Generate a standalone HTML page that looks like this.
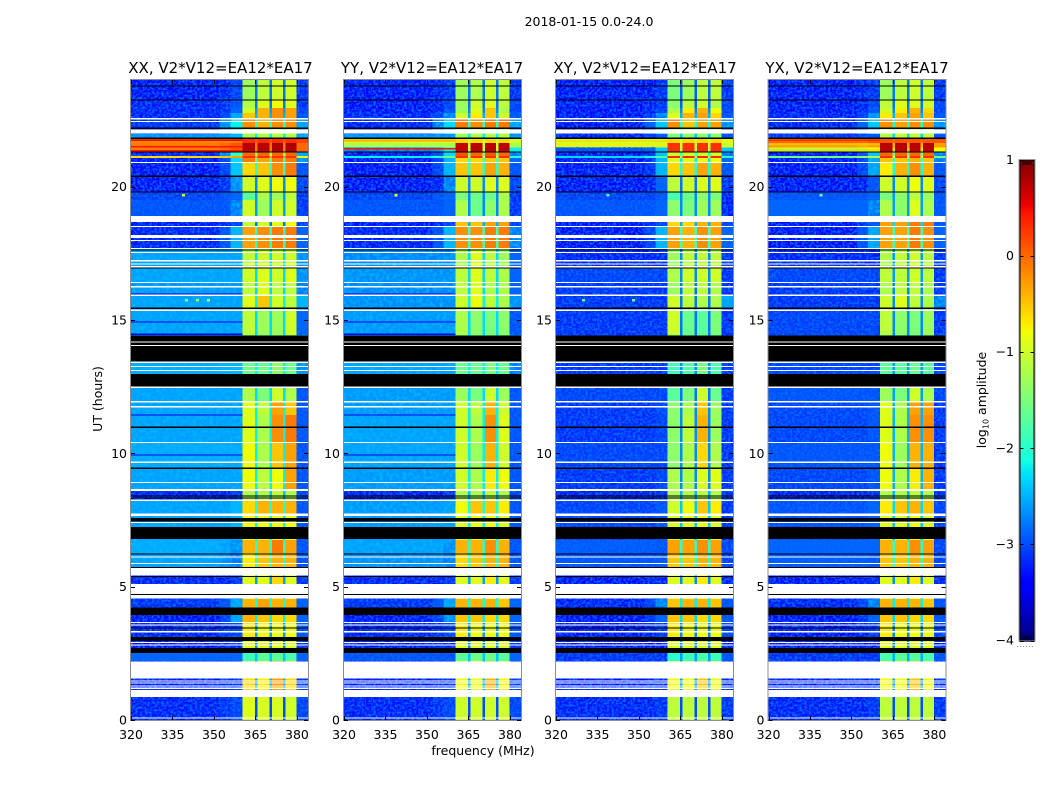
<!DOCTYPE html>
<html>
<head>
<meta charset="utf-8">
<title>2018-01-15 0.0-24.0</title>
<style>
html,body{margin:0;padding:0;background:#fff;}
svg{display:block;}
text{font-family:"DejaVu Sans","Liberation Sans",sans-serif;fill:#000;}
</style>
</head>
<body>
<svg id="chart" xmlns="http://www.w3.org/2000/svg" width="1050" height="800" viewBox="0 0 1050 800">
<defs>
<filter id="speckle" x="0" y="0" width="1" height="1" color-interpolation-filters="sRGB">
<feTurbulence type="fractalNoise" baseFrequency="0.42" numOctaves="2" seed="4"/>
<feColorMatrix type="matrix" values="0 0 0 0 0  0 0 0 0 0.42  0 0 0 0 1  3.4 0 0 0 -1.35"/>
</filter>
<filter id="speckle-soft" x="0" y="0" width="1" height="1" color-interpolation-filters="sRGB">
<feTurbulence type="fractalNoise" baseFrequency="0.3" numOctaves="2" seed="9"/>
<feColorMatrix type="matrix" values="0 0 0 0 0  0 0 0 0 0.74  0 0 0 0 1  2.2 0 0 0 -0.85"/>
</filter>
</defs>
<rect x="0" y="0" width="1050" height="800" fill="#fff"/>
<text x="589" y="26" font-size="12.5" text-anchor="middle">2018-01-15 0.0-24.0</text>
<text x="483" y="755" font-size="12.5" text-anchor="middle">frequency (MHz)</text>
<text transform="translate(102,399) rotate(-90)" font-size="12.5" text-anchor="middle">UT (hours)</text>
<text transform="translate(986,400) rotate(-90)" font-size="12.5" text-anchor="middle">log<tspan font-size="8" dy="2.5">10</tspan><tspan dy="-2.5"> amplitude</tspan></text>
</svg>
<script>
// ---- Data: axes ----
const freqTicks = [320, 335, 350, 365, 380];
const utTicks = [0, 5, 10, 15, 20];
const colorbarTicks = [1, 0, -1, -2, -3, -4];
const panelNames = ["XX", "YY", "XY", "YX"];
const panelTitles = ["XX, V2*V12=EA12*EA17", "YY, V2*V12=EA12*EA17", "XY, V2*V12=EA12*EA17", "YX, V2*V12=EA12*EA17"];

// ---- Data: frequency columns (MHz) and which level of a band row each column reads ----
const freqEdges = [320, 352, 356, 360.4, 364.8, 365.8, 370, 370.9, 374.9, 375.8, 379.9, 384];
const columnLevel = [0, 1, 2, 3, 8, 4, 8, 5, 8, 6, 7];

// ---- Data: time band edges (UT hours, top to bottom) ----
const utEdges = [24.00,23.25,22.95,22.76,22.53,22.16,21.97,21.82,21.63,21.47,21.30,21.15,21.07,20.88,20.40,19.80,19.50,18.90,18.67,18.49,17.70,16.95,16.42,15.94,15.45,14.44,13.42,12.97,12.45,11.92,11.44,10.42,9.45,8.62,8.25,7.72,6.75,6.26,5.70,5.10,4.54,4.20,3.67,3.11,2.51,2.21,1.12,0.86,0];

// ---- Data: log10 amplitude per band: [bg, ramp1, ramp2, spw1, spw2, spw3, spw4, right, gap] ----
const levelsXX = [
[-3.4,-3.3,-3.1,-1.3,-1.1,-1.0,-1.0,-3.2,-2.8],
[-3.3,-3.2,-3.0,-1.2,-0.9,-0.8,-0.9,-3.2,-2.8],
[-3.3,-3.2,-2.9,-1.0,-0.4,-0.2,-0.3,-3.1,-2.6],
[-3.3,-3.1,-2.6,-0.5,-0.4,-0.2,-0.3,-3.0,-2.5],
[-3.2,-2.7,-2.2,-0.2,-0.4,-0.2,-0.2,-2.6,-2.0],
[-3.2,-2.7,-2.3,-1.0,-1.0,-1.0,-1.0,-2.7,-2.1],
[-2.7,-2.6,-2.5,-1.3,-1.2,-1.2,-1.2,-2.6,-2.2],
[0.1,0.1,0.2,0.3,0.3,0.3,0.3,0.2,0.1],
[-0.1,0.0,0.1,0.75,0.75,0.8,0.8,0.0,-0.1],
[-0.1,0.0,0.1,0.75,0.75,0.8,0.8,0.0,-0.1],
[-3.3,-2.8,-1.9,0.0,0.0,0.0,0.0,-2.6,-1.2],
[-0.6,-0.5,-0.3,0.3,0.3,0.3,0.3,-0.8,-0.3],
[-3.4,-3.1,-2.3,-0.1,-0.3,-0.1,-0.1,-2.7,-1.8],
[-3.4,-3.1,-2.4,-0.6,-0.5,-0.2,-0.1,-3.0,-2.0],
[-3.4,-3.2,-2.7,-1.0,-0.9,-0.8,-0.8,-3.1,-2.7],
[-3.1,-3.0,-2.9,-1.7,-1.2,-1.3,-1.1,-3.2,-2.6],
[-3.0,-3.0,-2.8,-1.0,-1.3,-1.0,-1.0,-3.2,-2.6],
[-3.3,-3.2,-3.0,-1.1,-1.0,-0.9,-0.8,-3.0,-2.8],
[-3.4,-3.3,-3.1,-1.1,-1.0,-0.9,-0.8,-3.1,-2.8],
[-3.3,-3.0,-2.5,-0.3,-0.2,-0.1,-0.1,-2.9,-2.0],
[-2.6,-2.6,-2.6,-1.1,-1.0,-1.0,-1.0,-2.7,-2.3],
[-2.6,-2.6,-2.6,-1.0,-0.9,-1.0,-0.9,-2.7,-2.3],
[-2.65,-2.65,-2.65,-1.1,-0.9,-1.1,-1.1,-2.8,-2.3],
[-2.6,-2.6,-2.6,-0.9,-0.5,-1.0,-1.1,-2.5,-2.2],
[-2.6,-2.6,-2.6,-1.1,-1.3,-1.3,-1.0,-2.9,-2.3],
[-2.6,-2.6,-2.6,-1.6,-1.6,-1.4,-1.6,-2.7,-2.2],
[-2.55,-2.5,-2.5,-1.6,-1.6,-1.4,-1.6,-2.7,-2.2],
[-2.6,-2.6,-2.6,-1.3,-1.4,-1.2,-1.4,-2.9,-2.3],
[-2.6,-2.6,-2.6,-1.2,-1.5,-1.0,-1.2,-3.0,-2.3],
[-2.6,-2.6,-2.6,-0.9,-1.1,-0.3,-0.5,-3.0,-2.2],
[-2.6,-2.6,-2.6,-0.9,-1.2,-0.2,-0.1,-3.0,-2.2],
[-2.55,-2.55,-2.55,-0.8,-1.2,-0.5,-0.3,-3.0,-2.2],
[-2.6,-2.6,-2.6,-0.8,-1.1,-0.8,-0.3,-3.0,-2.2],
[-3.3,-3.3,-3.2,-1.2,-1.2,-1.1,-1.2,-3.1,-2.4],
[-2.6,-2.6,-2.5,-0.6,-0.4,-0.4,-0.4,-3.0,-2.1],
[-2.6,-2.6,-2.5,-0.8,-0.8,-0.8,-0.8,-3.0,-2.2],
[-2.55,-2.6,-2.7,-0.4,-0.4,-0.1,-0.3,-3.0,-2.0],
[-2.6,-2.7,-2.8,-0.7,-0.5,-0.4,-0.4,-3.0,-2.0],
[-3.3,-3.3,-3.2,-0.9,-0.9,-0.6,-0.9,-3.2,-2.6],
[-3.3,-3.3,-3.2,-0.9,-0.9,-0.6,-0.9,-3.2,-2.6],
[-3.2,-3.0,-2.6,-0.4,-0.3,-0.4,-0.4,-2.9,-2.1],
[-3.4,-3.1,-2.6,-0.4,-0.5,-0.6,-0.6,-2.9,-2.2],
[-3.3,-3.2,-3.1,-0.7,-0.8,-0.8,-0.8,-3.0,-2.6],
[-3.4,-3.3,-3.3,-0.9,-0.9,-0.9,-0.9,-3.2,-2.7],
[-2.9,-2.9,-2.9,-1.9,-1.7,-1.7,-1.8,-2.9,-2.4],
[-3.4,-3.3,-3.3,-0.6,-0.7,-0.3,-0.6,-3.2,-2.5],
[-3.4,-3.3,-3.3,-0.6,-0.7,-0.3,-0.6,-3.2,-2.5],
[-3.3,-3.2,-3.1,-0.9,-0.95,-0.95,-1.0,-3.1,-3.0]
];
const levelsYY = [
[-3.4,-3.3,-3.2,-1.3,-1.2,-1.0,-1.1,-3.2,-2.8],
[-3.4,-3.3,-3.1,-1.3,-1.0,-0.9,-1.1,-3.1,-2.8],
[-3.4,-3.3,-3.0,-1.3,-0.9,-0.5,-1.2,-3.1,-2.7],
[-3.3,-3.1,-2.8,-1.0,-0.7,-0.5,-1.0,-3.0,-2.5],
[-3.3,-2.8,-2.3,-0.1,-0.2,-0.1,-0.1,-2.6,-2.0],
[-3.2,-2.8,-2.4,-1.0,-1.0,-1.0,-1.0,-2.7,-2.1],
[-2.7,-2.7,-2.7,-1.3,-1.2,-1.2,-1.2,-2.7,-2.2],
[-1.0,-1.0,-1.0,-0.6,-0.6,-0.6,-0.6,-1.0,-1.0],
[-1.2,-1.2,-1.2,0.7,0.75,0.75,0.75,-1.2,-1.0],
[-2.8,-2.7,-2.2,0.7,0.75,0.75,0.75,-2.2,-1.0],
[-3.4,-3.0,-2.3,0.1,0.0,0.1,0.0,-2.8,-1.5],
[-2.2,-2.0,-1.6,0.3,0.3,0.3,0.3,-2.0,-1.0],
[-3.4,-3.1,-2.5,-0.6,-0.6,-0.5,-0.5,-2.9,-1.9],
[-3.4,-3.1,-2.5,-0.5,-0.5,-0.3,-0.4,-3.0,-2.0],
[-3.4,-3.3,-2.8,-1.0,-1.0,-0.9,-0.9,-3.1,-2.7],
[-3.1,-3.0,-2.9,-1.5,-1.6,-1.6,-1.2,-3.2,-2.7],
[-3.0,-3.0,-2.9,-1.2,-1.6,-1.4,-1.2,-3.2,-2.7],
[-3.4,-3.3,-3.1,-0.6,-0.6,-0.5,-0.5,-3.1,-2.6],
[-3.4,-3.3,-3.1,-0.5,-0.5,-0.3,-0.3,-3.1,-2.5],
[-3.3,-3.0,-2.5,-0.2,-0.2,-0.1,-0.1,-2.8,-1.9],
[-2.75,-2.75,-2.75,-1.2,-0.9,-1.1,-1.3,-2.9,-2.3],
[-2.7,-2.7,-2.7,-1.1,-0.9,-1.1,-1.2,-2.9,-2.3],
[-2.75,-2.75,-2.75,-1.1,-0.9,-1.2,-1.2,-2.9,-2.3],
[-2.7,-2.7,-2.7,-1.0,-0.8,-1.1,-1.2,-2.7,-2.2],
[-2.65,-2.65,-2.65,-1.2,-1.4,-1.5,-1.4,-3.0,-2.3],
[-2.6,-2.6,-2.6,-1.6,-1.6,-1.5,-1.6,-2.8,-2.2],
[-2.6,-2.6,-2.6,-1.6,-1.6,-1.5,-1.6,-2.8,-2.2],
[-2.6,-2.6,-2.6,-1.4,-1.4,-1.3,-1.5,-2.9,-2.3],
[-2.65,-2.65,-2.65,-1.3,-1.5,-1.0,-1.3,-3.0,-2.3],
[-2.65,-2.65,-2.65,-1.0,-1.1,-0.4,-1.0,-3.0,-2.2],
[-2.6,-2.6,-2.6,-1.0,-1.2,-0.2,-0.9,-3.0,-2.2],
[-2.6,-2.6,-2.6,-1.0,-1.3,-0.4,-1.0,-3.0,-2.2],
[-2.65,-2.65,-2.65,-1.0,-1.2,-0.7,-0.8,-3.0,-2.2],
[-3.3,-3.3,-3.2,-1.2,-1.2,-1.1,-1.2,-3.1,-2.4],
[-2.65,-2.65,-2.6,-0.8,-0.5,-0.5,-0.7,-3.0,-2.1],
[-2.65,-2.65,-2.6,-0.9,-0.8,-0.8,-0.9,-3.0,-2.2],
[-2.6,-2.6,-2.7,-0.4,-0.4,-0.2,-0.4,-3.0,-2.0],
[-2.7,-2.7,-2.8,-0.6,-0.5,-0.4,-0.4,-3.0,-2.0],
[-3.3,-3.3,-3.2,-0.9,-0.9,-0.7,-0.9,-3.2,-2.6],
[-3.3,-3.3,-3.2,-0.9,-0.9,-0.7,-0.9,-3.2,-2.6],
[-3.2,-3.0,-2.6,-0.4,-0.4,-0.4,-0.5,-2.9,-2.1],
[-3.4,-3.1,-2.7,-0.5,-0.5,-0.6,-0.6,-2.9,-2.2],
[-3.3,-3.2,-3.1,-0.7,-0.8,-0.8,-0.8,-3.0,-2.6],
[-3.4,-3.3,-3.3,-0.9,-0.9,-0.9,-0.9,-3.2,-2.7],
[-3.0,-3.0,-3.0,-1.7,-1.6,-1.6,-1.7,-2.9,-2.4],
[-3.4,-3.3,-3.3,-0.8,-0.8,-0.4,-0.8,-3.2,-2.5],
[-3.4,-3.3,-3.3,-0.8,-0.8,-0.4,-0.8,-3.2,-2.5],
[-3.3,-3.2,-3.1,-1.0,-1.0,-1.0,-1.0,-3.1,-3.0]
];
const levelsXY = [
[-3.4,-3.4,-3.2,-1.5,-1.3,-1.1,-1.1,-3.2,-2.9],
[-3.4,-3.3,-3.2,-1.4,-1.1,-1.0,-1.2,-3.1,-2.9],
[-3.4,-3.3,-3.1,-1.2,-0.7,-0.4,-0.8,-3.1,-2.7],
[-3.4,-3.2,-2.8,-0.9,-0.4,-0.3,-0.6,-3.0,-2.5],
[-3.4,-2.9,-2.4,-0.2,-0.5,-0.3,-0.3,-2.7,-2.1],
[-3.4,-3.0,-2.5,-1.2,-1.2,-1.2,-1.2,-2.9,-2.2],
[-3.3,-3.2,-3.0,-1.5,-1.4,-1.4,-1.4,-3.0,-2.4],
[-0.9,-0.9,-0.9,-0.6,-0.6,-0.6,-0.6,-0.9,-1.0],
[-1.0,-1.0,-1.0,0.3,0.3,0.3,0.3,-1.0,-1.0],
[-3.0,-2.9,-2.4,0.3,0.3,0.3,0.3,-2.4,-1.2],
[-3.4,-3.2,-2.4,-1.0,-1.0,-1.0,-1.0,-2.8,-1.8],
[-2.3,-2.1,-1.8,0.35,0.35,0.35,0.35,-2.0,-1.2],
[-3.4,-3.2,-2.5,-0.9,-0.9,-0.8,-0.8,-2.9,-2.2],
[-3.4,-3.2,-2.5,-0.6,-0.5,-0.3,-0.4,-3.0,-2.1],
[-3.4,-3.3,-2.9,-1.1,-1.0,-0.9,-0.9,-3.2,-2.8],
[-3.1,-3.1,-3.0,-1.8,-1.6,-1.4,-1.5,-3.3,-2.7],
[-3.0,-3.0,-2.9,-1.4,-1.5,-1.3,-1.3,-3.3,-2.7],
[-3.4,-3.3,-3.1,-0.9,-0.8,-0.7,-0.7,-3.1,-2.6],
[-3.4,-3.3,-3.1,-0.6,-0.6,-0.4,-0.4,-3.1,-2.5],
[-3.4,-3.1,-2.5,-0.3,-0.4,-0.2,-0.3,-2.9,-1.9],
[-3.3,-3.3,-3.3,-1.3,-1.1,-1.1,-1.1,-3.2,-2.7],
[-3.1,-3.1,-3.1,-1.2,-1.0,-1.0,-1.0,-3.2,-2.7],
[-3.2,-3.2,-3.2,-1.3,-1.1,-1.1,-1.2,-3.2,-2.8],
[-3.2,-3.2,-3.2,-1.0,-1.1,-1.2,-1.2,-2.6,-2.8],
[-3.2,-3.2,-3.2,-1.0,-1.6,-1.7,-1.5,-3.2,-2.8],
[-3.2,-3.2,-3.2,-1.9,-1.8,-1.5,-1.8,-3.2,-2.7],
[-3.2,-3.2,-3.2,-1.9,-1.8,-1.5,-1.8,-3.2,-2.7],
[-3.2,-3.2,-3.2,-1.7,-1.7,-1.3,-1.7,-3.2,-2.8],
[-3.1,-3.1,-3.1,-1.7,-1.5,-1.0,-1.6,-3.2,-2.8],
[-3.2,-3.2,-3.1,-1.4,-1.2,-0.5,-1.3,-3.2,-2.7],
[-3.2,-3.2,-3.1,-1.4,-1.1,-0.4,-1.3,-3.2,-2.7],
[-3.1,-3.1,-3.1,-1.4,-1.2,-0.6,-1.2,-3.2,-2.7],
[-3.2,-3.2,-3.1,-1.2,-1.2,-0.9,-0.9,-3.2,-2.7],
[-3.3,-3.3,-3.2,-1.2,-1.2,-1.1,-1.2,-3.2,-2.5],
[-3.1,-3.1,-3.0,-1.0,-0.8,-0.5,-0.7,-3.2,-2.4],
[-3.1,-3.1,-3.0,-0.9,-0.9,-0.8,-0.9,-3.2,-2.4],
[-2.95,-2.95,-3.0,-0.3,-0.3,-0.2,-0.3,-3.1,-2.0],
[-3.0,-3.0,-3.0,-0.5,-0.5,-0.4,-0.4,-3.1,-2.0],
[-3.4,-3.3,-3.3,-0.9,-0.9,-0.7,-0.9,-3.3,-2.7],
[-3.4,-3.3,-3.3,-0.9,-0.9,-0.7,-0.9,-3.3,-2.7],
[-3.3,-3.1,-2.8,-0.5,-0.4,-0.4,-0.5,-3.0,-2.2],
[-3.4,-3.2,-2.9,-0.5,-0.5,-0.6,-0.6,-3.0,-2.3],
[-3.4,-3.3,-3.2,-0.7,-0.8,-0.8,-0.8,-3.1,-2.7],
[-3.4,-3.4,-3.4,-0.9,-0.9,-0.9,-0.9,-3.3,-2.7],
[-3.2,-3.2,-3.2,-2.0,-1.9,-1.8,-1.9,-3.0,-2.6],
[-3.4,-3.3,-3.3,-0.8,-0.8,-0.5,-0.8,-3.3,-2.6],
[-3.4,-3.3,-3.3,-0.8,-0.8,-0.5,-0.8,-3.3,-2.6],
[-3.3,-3.3,-3.2,-1.1,-1.1,-1.1,-1.1,-3.2,-3.0]
];
const levelsYX = [
[-3.4,-3.3,-3.2,-1.3,-1.1,-1.0,-1.1,-3.2,-2.8],
[-3.4,-3.3,-3.1,-1.1,-0.9,-0.9,-1.0,-3.1,-2.8],
[-3.4,-3.3,-3.0,-1.0,-0.7,-0.4,-0.6,-3.1,-2.7],
[-3.3,-3.1,-2.7,-0.7,-0.5,-0.3,-0.5,-3.0,-2.5],
[-3.3,-2.9,-2.4,-0.2,-0.3,-0.2,-0.2,-2.7,-2.1],
[-3.3,-2.9,-2.5,-1.0,-1.0,-1.0,-1.0,-2.8,-2.2],
[-3.2,-3.1,-3.0,-1.2,-1.1,-1.1,-1.1,-3.0,-2.3],
[0.0,0.0,0.1,0.1,0.1,0.1,0.1,0.1,0.0],
[-0.3,-0.4,-0.3,0.75,0.75,0.75,0.75,-0.3,-0.4],
[-1.1,-1.0,-0.8,0.75,0.75,0.75,0.75,-0.8,-0.6],
[-3.4,-3.0,-2.4,0.0,0.0,0.0,0.0,-2.8,-1.6],
[-1.6,-1.4,-1.2,0.3,0.3,0.3,0.3,-1.5,-0.8],
[-3.4,-3.1,-2.6,-0.5,-0.5,-0.4,-0.5,-2.8,-1.9],
[-3.4,-3.1,-2.6,-0.7,-0.4,-0.2,-0.4,-3.0,-2.1],
[-3.4,-3.3,-3.0,-1.0,-1.0,-0.8,-0.9,-3.1,-2.7],
[-3.0,-3.0,-2.9,-1.5,-1.4,-1.1,-1.3,-3.0,-2.6],
[-2.9,-2.9,-2.8,-1.2,-1.4,-0.9,-1.2,-3.0,-2.6],
[-3.4,-3.3,-3.1,-0.8,-0.8,-0.7,-0.7,-3.1,-2.6],
[-3.4,-3.2,-3.0,-0.3,-0.3,-0.1,-0.1,-3.0,-2.3],
[-3.4,-3.0,-2.6,-0.3,-0.3,-0.1,-0.2,-2.9,-1.9],
[-3.3,-3.3,-3.3,-1.2,-1.1,-1.0,-1.1,-3.2,-2.6],
[-3.1,-3.1,-3.1,-1.1,-1.1,-1.0,-1.1,-3.2,-2.6],
[-3.2,-3.2,-3.2,-1.2,-1.1,-1.1,-1.2,-3.2,-2.7],
[-3.2,-3.2,-3.2,-1.0,-0.9,-1.1,-1.2,-2.8,-2.7],
[-3.1,-3.1,-3.1,-1.1,-1.4,-1.5,-1.3,-3.2,-2.7],
[-3.1,-3.1,-3.1,-1.7,-1.7,-1.6,-1.7,-3.1,-2.6],
[-3.1,-3.1,-3.1,-1.7,-1.7,-1.6,-1.7,-3.1,-2.6],
[-3.1,-3.1,-3.1,-1.5,-1.5,-1.3,-1.5,-3.1,-2.7],
[-3.0,-3.0,-3.0,-1.3,-1.5,-1.0,-1.2,-3.1,-2.6],
[-3.1,-3.1,-3.0,-0.9,-1.2,-0.3,-0.3,-3.2,-2.5],
[-3.1,-3.1,-3.0,-0.9,-1.2,-0.2,-0.2,-3.2,-2.5],
[-3.0,-3.0,-3.0,-0.8,-1.3,-0.4,-0.4,-3.2,-2.5],
[-3.1,-3.1,-3.0,-0.8,-1.2,-0.7,-0.4,-3.2,-2.5],
[-3.3,-3.3,-3.2,-1.2,-1.2,-1.1,-1.2,-3.2,-2.5],
[-3.0,-3.0,-2.9,-0.7,-0.5,-0.4,-0.5,-3.1,-2.3],
[-3.0,-3.0,-2.9,-0.9,-0.9,-0.8,-0.9,-3.1,-2.4],
[-2.9,-2.9,-2.9,-0.4,-0.4,-0.2,-0.3,-3.1,-2.0],
[-2.95,-2.95,-3.0,-0.5,-0.5,-0.4,-0.4,-3.1,-2.0],
[-3.4,-3.3,-3.3,-0.9,-0.9,-0.7,-0.9,-3.3,-2.7],
[-3.4,-3.3,-3.3,-0.9,-0.9,-0.7,-0.9,-3.3,-2.7],
[-3.3,-3.1,-2.8,-0.4,-0.4,-0.4,-0.5,-3.0,-2.2],
[-3.4,-3.2,-2.9,-0.5,-0.5,-0.6,-0.6,-3.0,-2.3],
[-3.4,-3.3,-3.2,-0.7,-0.8,-0.8,-0.8,-3.1,-2.7],
[-3.4,-3.4,-3.4,-0.9,-0.9,-0.9,-0.9,-3.3,-2.7],
[-3.2,-3.2,-3.2,-1.8,-1.7,-1.7,-1.8,-3.0,-2.5],
[-3.4,-3.3,-3.3,-0.8,-0.8,-0.5,-0.8,-3.3,-2.6],
[-3.4,-3.3,-3.3,-0.8,-0.8,-0.5,-0.8,-3.3,-2.6],
[-3.3,-3.3,-3.2,-1.1,-1.1,-1.1,-1.1,-3.2,-3.0]
];

// ---- Data: flagged rows shared by all panels (UT hours: [low, high]) ----
const whiteFlags = [[22.52,22.57],[22.42,22.46],[21.99,22.14],[20.88,20.92],[18.68,18.90],[18.49,18.52],[18.07,18.19],[17.96,18.00],[17.66,17.70],[17.51,17.55],[17.19,17.25],[17.08,17.12],[16.97,17.02],[16.39,16.42],[16.22,16.27],[15.90,15.95],[15.34,15.39],[14.15,14.19],[14.02,14.07],[13.39,13.44],[13.24,13.27],[13.08,13.12],[12.45,12.50],[11.91,11.96],[11.72,11.77],[10.39,10.43],[9.64,9.69],[8.89,8.93],[8.59,8.66],[8.21,8.27],[7.65,7.74],[7.39,7.42],[6.09,6.13],[5.86,5.89],[5.41,5.70],[4.72,5.10],[4.55,4.69],[3.63,3.67],[3.54,3.58],[3.29,3.34],[2.89,2.92],[2.79,2.83],[1.56,2.19],[1.46,1.49],[1.36,1.40],[1.26,1.30],[1.17,1.21],[0.87,1.12],[0.06,0.10]];
const blackFlags = [[23.76,23.80],[23.23,23.27],[22.17,22.21],[21.78,21.84],[21.28,21.32],[20.37,20.41],[19.78,19.82],[17.60,17.64],[16.93,16.97],[15.41,15.46],[14.19,14.41],[14.07,14.15],[13.44,14.02],[12.50,12.97],[10.95,11.00],[9.41,9.46],[8.38,8.42],[8.30,8.34],[7.44,7.57],[6.79,7.24],[6.22,6.25],[5.71,5.74],[5.37,5.40],[4.69,4.72],[3.94,4.21],[3.43,3.47],[2.97,3.12],[2.52,2.70]];
// dark drop-out lines seen in the bright XX / YY backgrounds (UT hours)
const dropoutLines = [15.97, 14.93, 14.47, 11.44, 9.94];
const dropoutPanels = [0, 1];
// thin bright interference stripes across the low band
const stripePanels = [0, 0, 0, 0, 1, 1, 1, 2, 2, 3, 3, 3];
const stripeUT = [21.76, 21.70, 21.52, 21.38, 21.76, 21.73, 21.45, 21.74, 21.60, 21.76, 21.62, 21.40];
const stripeLevels = [0.5, -0.4, 0.45, 0.4, -0.3, -0.5, 0.45, -0.5, -0.7, 0.3, -0.5, -0.5];
// isolated bright spots: panel index, frequency (MHz), UT hours, level
const spotPanels = [0, 1, 2, 3, 0, 0, 0, 2, 2];
const spotFreqs = [339, 338.8, 338.8, 339, 348, 344, 340, 330, 348];
const spotUT = [19.68, 19.68, 19.68, 19.68, 15.75, 15.75, 15.75, 15.75, 15.75];
const spotLevels = [-1.0, -0.9, -1.7, -1.6, -1.1, -1.3, -1.3, -1.7, -1.6];

// ---- Layout ----
const panelLefts = [131, 344, 556, 768.5];
const titleCenters = [220.5, 432, 645, 857];
const panelWidth = 177;
const plotTop = 80, plotBottom = 720;
const cbarX = 1019.5, cbarW = 15, cbarTop = 160, cbarBottom = 640.5;
const allLevels = [levelsXX, levelsYY, levelsXY, levelsYX];

// ---- Scales ----
const NS = "http://www.w3.org/2000/svg";
const root = document.getElementById("chart");
function xScale(panelIndex, mhz){ return panelLefts[panelIndex] + (mhz - 320) / 64 * panelWidth; }
function yScale(ut){ return plotBottom - ut / 24 * (plotBottom - plotTop); }
function cbarScale(v){ return cbarBottom - (v + 4) / 5 * (cbarBottom - cbarTop); }
function ramp(t, pts){
  for (let i = 1; i < pts.length; i++) {
    if (t <= pts[i][0]) {
      const a = pts[i-1], b = pts[i];
      return a[1] + (b[1] - a[1]) * (t - a[0]) / (b[0] - a[0]);
    }
  }
  return pts[pts.length-1][1];
}
function jet(v){
  const t = Math.max(0, Math.min(1, (v + 4) / 5));
  const r = ramp(t, [[0,0],[0.35,0],[0.66,1],[0.89,1],[1,0.5]]);
  const g = ramp(t, [[0,0],[0.125,0],[0.375,1],[0.64,1],[0.91,0],[1,0]]);
  const b = ramp(t, [[0,0.5],[0.11,1],[0.34,1],[0.65,0],[1,0]]);
  return "rgb(" + Math.round(r*255) + "," + Math.round(g*255) + "," + Math.round(b*255) + ")";
}
function make(tag, parent, attrs){
  const el = document.createElementNS(NS, tag);
  for (const k in attrs) el.setAttribute(k, attrs[k]);
  parent.appendChild(el);
  return el;
}

// ---- Panels ----
panelNames.forEach(function(name, p){
  const g = make("g", root, {"shape-rendering":"crispEdges"});
  
  
  const levels = allLevels[p];

  levels.forEach(function(row, b){
    const y0 = yScale(utEdges[b]), y1 = yScale(utEdges[b+1]);
    columnLevel.forEach(function(src, c){
      const x0 = xScale(p, freqEdges[c]), x1 = xScale(p, freqEdges[c+1]);
      const cell = make("rect", g, {x:x0, y:y0, width:x1-x0, height:y1-y0, fill:jet(row[src])});
      
      
      const isBackground = (src <= 2 || src === 7);
      const level = row[src];
      if (isBackground && level < -2.85) {
        const spk = make("rect", g, {x:x0, y:y0, width:x1-x0, height:y1-y0, fill:"#000", filter:"url(#speckle)"});
        
        
      } else if (isBackground && level < -2.4) {
        const soft = make("rect", g, {x:x0, y:y0, width:x1-x0, height:y1-y0, fill:"#000", filter:"url(#speckle-soft)"});
        
        
      }
    });
  });

  if (dropoutPanels.indexOf(p) >= 0) {
    dropoutLines.forEach(function(ut){
      const d = make("rect", g, {x:xScale(p,320), y:yScale(ut)-0.5, width:xScale(p,360.4)-xScale(p,320), height:1.2, fill:jet(-3.5)});
      
      
    });
  }
  stripeUT.forEach(function(ut, i){
    if (stripePanels[i] !== p) return;
    const st = make("rect", g, {x:xScale(p,320), y:yScale(ut), width:xScale(p,360.4)-xScale(p,320), height:1.4, fill:jet(stripeLevels[i])});
    
    
  });
  spotUT.forEach(function(ut, i){
    if (spotPanels[i] !== p) return;
    const sp = make("rect", g, {x:xScale(p,spotFreqs[i])-1.5, y:yScale(ut)-1, width:3, height:2.5, fill:jet(spotLevels[i])});
    
    
  });

  whiteFlags.forEach(function(f){
    const r = make("rect", g, {x:xScale(p,320), y:yScale(f[1]), width:panelWidth, height:Math.max(1, yScale(f[0])-yScale(f[1])), fill:"#fff"});
    
    
  });
  blackFlags.forEach(function(f){
    const r = make("rect", g, {x:xScale(p,320), y:yScale(f[1]), width:panelWidth, height:Math.max(1, yScale(f[0])-yScale(f[1])), fill:"#000"});
    
    
  });

  const left = xScale(p, 320), right = left + panelWidth;
  const frame = make("rect", g, {x:left-0.5, y:plotTop-0.5, width:panelWidth+1, height:plotBottom-plotTop+1, fill:"none", stroke:"#8c8c8c", "stroke-width":1});
  
  

  freqTicks.forEach(function(v){
    const x = Math.round(xScale(p, v)) + 0.5;
    const t1 = make("line", g, {x1:x, x2:x, y1:plotBottom, y2:plotBottom-4, stroke:"#000"});
    
    
    const t2 = make("line", g, {x1:x, x2:x, y1:plotTop, y2:plotTop+4, stroke:"#000"});
    
    
    const lab = make("text", root, {x:xScale(p, v), y:plotBottom+19, "font-size":12.5, "text-anchor":"middle"});
    lab.textContent = String(v);
    
    
  });
  utTicks.forEach(function(v){
    const y = Math.round(yScale(v)) + 0.5;
    const t1 = make("line", g, {x1:left, x2:left+4, y1:y, y2:y, stroke:"#000"});
    
    
    const t2 = make("line", g, {x1:right, x2:right-4, y1:y, y2:y, stroke:"#000"});
    
    
    const lab = make("text", root, {x:left-4, y:yScale(v)+4.5, "font-size":12.5, "text-anchor":"end"});
    lab.textContent = String(v);
    
    
  });

  const title = make("text", root, {x:titleCenters[p], y:73, "font-size":15, "text-anchor":"middle"});
  title.textContent = panelTitles[p];
  
  
});

// ---- Colorbar ----
const cbar = make("g", root, {"shape-rendering":"crispEdges"});


for (let py = cbarTop; py < cbarBottom; py += 2) {
  const v = -4 + (cbarBottom - py - 1) / (cbarBottom - cbarTop) * 5;
  const s = make("rect", cbar, {x:cbarX, y:py, width:cbarW, height:2, fill:jet(v)});
  
  
}
const cbFrame = make("rect", cbar, {x:cbarX-0.5, y:cbarTop-0.5, width:cbarW+1, height:cbarBottom-cbarTop+1, fill:"none", stroke:"#9a9a9a"});


const cbEdgeL = make("line", cbar, {x1:cbarX+0.5, x2:cbarX+0.5, y1:cbarTop, y2:cbarBottom, stroke:"#000"});


const cbEdgeR = make("line", cbar, {x1:cbarX+cbarW-0.5, x2:cbarX+cbarW-0.5, y1:cbarTop, y2:cbarBottom, stroke:"#000"});


colorbarTicks.forEach(function(v){
  const y = Math.round(cbarScale(v)) + 0.5;
  const a = make("line", cbar, {x1:cbarX, x2:cbarX+4, y1:y, y2:y, stroke:"#000"});
  
  
  const b = make("line", cbar, {x1:cbarX+cbarW, x2:cbarX+cbarW-4, y1:y, y2:y, stroke:"#000"});
  
  
  const lab = make("text", root, {x:1014, y:cbarScale(v)+4, "font-size":12.5, "text-anchor":"end"});
  lab.textContent = String(v).replace("-", "\u2212");
  
  
});
[cbarTop, cbarBottom].forEach(function(edge, i){
  for (let x = cbarX + 3; x < cbarX + cbarW - 2; x += 2) {
    const m = make("line", cbar, {x1:x+0.5, x2:x+0.5, y1:edge, y2:i === 0 ? edge+5 : edge-5, stroke:"#000"});
    
    
  }
});
const dots = make("line", root, {x1:1017, x2:1035, y1:646.5, y2:646.5, stroke:"#999", "stroke-dasharray":"1 2"});


</script>
</body>
</html>
